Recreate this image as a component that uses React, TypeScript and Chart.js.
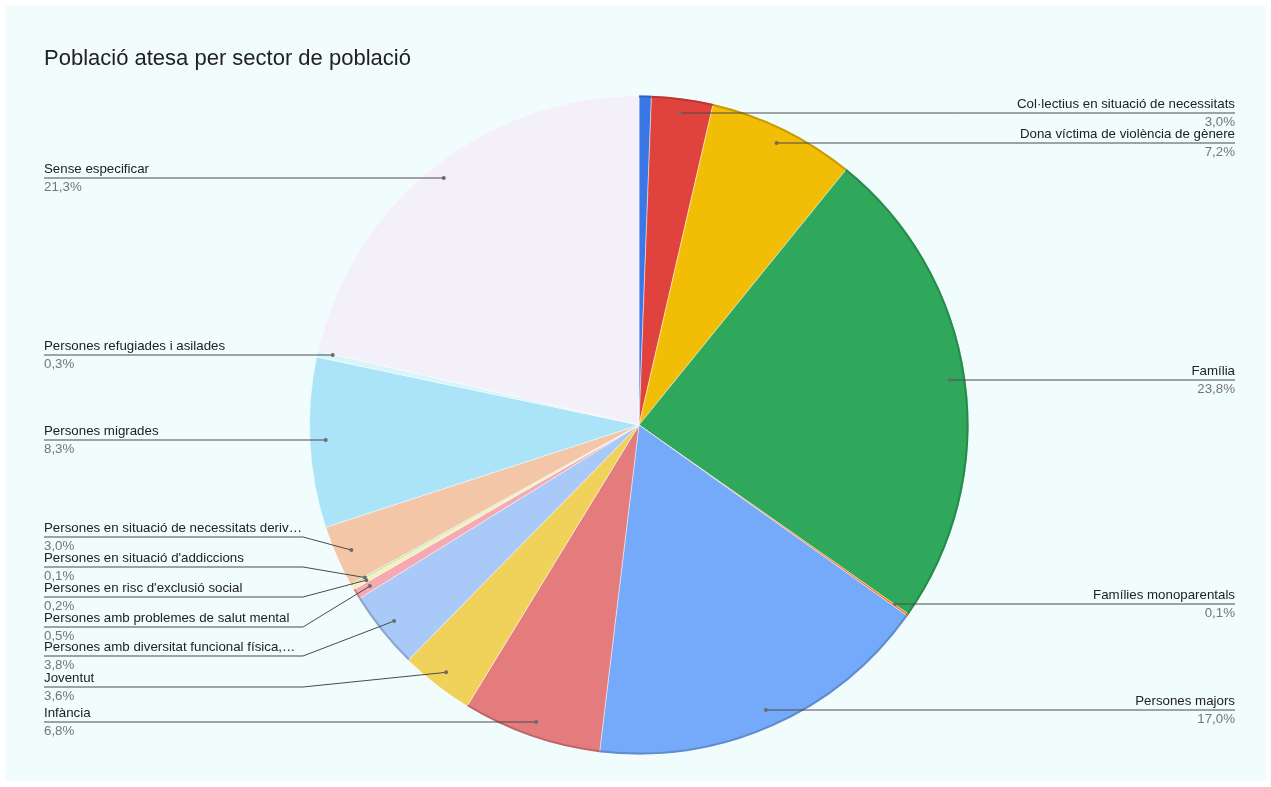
import React, { useEffect, useRef } from "react";
import { Chart, registerables } from "chart.js";

Chart.register(...registerables);

const TITLE = "Població atesa per sector de població";

const CATEGORIES = [
  "",
  "Col·lectius en situació de necessitats",
  "Dona víctima de violència de gènere",
  "Família",
  "Famílies monoparentals",
  "Persones majors",
  "Infància",
  "Joventut",
  "Persones amb diversitat funcional física,…",
  "Persones amb problemes de salut mental",
  "Persones en risc d'exclusió social",
  "Persones en situació d'addiccions",
  "Persones en situació de necessitats deriv…",
  "Persones migrades",
  "Persones refugiades i asilades",
  "Sense especificar",
];

const VALUES = [0.6, 3.0, 7.2, 23.8, 0.1, 17.0, 6.8, 3.6, 3.8, 0.5, 0.2, 0.1, 3.0, 8.3, 0.3, 21.3];

const COLORS = [
  "#3b78e7", "#e0433d", "#f2bd05", "#2fa85b", "#ff6d01", "#75a9fa", "#e47b7d", "#f0d25b",
  "#a9caf8", "#f4a9b3", "#f8f0b0", "#b9e2b4", "#f4c6a8", "#abe4f8", "#d9f5fa", "#f3f0fa",
];

// layout: y of each label's underline (text positions, not data)
const LABEL_LINE_Y = [null, 113, 143, 380, 604, 710, 722, 687, 656, 627, 597, 567, 537, 440, 355, 178];

const FONT = "'Liberation Sans', Arial, sans-serif";

function rgbOf(hex: string) {
  const n = parseInt(hex.slice(1), 16);
  return [(n >> 16) & 255, (n >> 8) & 255, n & 255];
}

function darken(hex: string, f: number) {
  const [r, g, b] = rgbOf(hex);
  return `rgb(${Math.round(r * f)},${Math.round(g * f)},${Math.round(b * f)})`;
}

function lightness(hex: string) {
  const [r, g, b] = rgbOf(hex);
  return (0.299 * r + 0.587 * g + 0.114 * b) / 255;
}

const fmtPct = (v: number) => v.toFixed(1).replace(".", ",") + "%";

const bgPlugin = {
  id: "bg",
  beforeDraw(chart: any) {
    const { ctx, width, height } = chart;
    ctx.save();
    ctx.fillStyle = "#ffffff";
    ctx.fillRect(0, 0, width, height);
    ctx.fillStyle = "#f1fcfd";
    ctx.fillRect(5, 6, width - 10, height - 12);
    ctx.fillStyle = "#222222";
    ctx.font = `22px ${FONT}`;
    ctx.textAlign = "left";
    ctx.textBaseline = "alphabetic";
    ctx.fillText(TITLE, 44, 65);
    ctx.restore();
  },
};

const labelPlugin = {
  id: "leaderLabels",
  afterDatasetsDraw(chart: any) {
    const { ctx } = chart;
    const meta = chart.getDatasetMeta(0);
    ctx.save();
    // rims
    meta.data.forEach((arc: any, i: number) => {
      if (lightness(COLORS[i]) > 0.8) return;
      const p = arc.getProps(["x", "y", "startAngle", "endAngle", "outerRadius"], true);
      ctx.beginPath();
      ctx.arc(p.x, p.y, p.outerRadius - 1, p.startAngle, p.endAngle);
      ctx.strokeStyle = darken(COLORS[i], 0.82);
      ctx.lineWidth = 2;
      ctx.stroke();
    });
    meta.data.forEach((arc: any, i: number) => {
      const name = CATEGORIES[i];
      const ly = LABEL_LINE_Y[i];
      if (!name || ly == null) return;
      const p = arc.getProps(["x", "y", "startAngle", "endAngle", "outerRadius"], true);
      const mid = (p.startAngle + p.endAngle) / 2;
      const rr = p.outerRadius * 0.952;
      const ax = p.x + Math.cos(mid) * rr;
      const ay = p.y + Math.sin(mid) * rr;
      const right = ax > p.x;
      const straight = Math.abs(ay - ly) < 4;
      ctx.strokeStyle = "#4a4a4a";
      ctx.lineWidth = 1;
      ctx.beginPath();
      ctx.font = `13.3px ${FONT}`;
      if (right) {
        const endX = 1235;
        if (straight) {
          ctx.moveTo(ax, ly);
          ctx.lineTo(endX, ly);
        } else {
          ctx.moveTo(ax, ay);
          ctx.lineTo(ax + 40, ly);
          ctx.lineTo(endX, ly);
        }
        ctx.stroke();
        ctx.fillStyle = "#222222";
        ctx.textAlign = "right";
        ctx.fillText(name, endX, ly - 5);
        ctx.fillStyle = "#757575";
        ctx.fillText(fmtPct(VALUES[i]), endX, ly + 13);
      } else {
        const startX = 44;
        if (straight) {
          ctx.moveTo(startX, ly);
          ctx.lineTo(ax, ly);
        } else {
          ctx.moveTo(startX, ly);
          ctx.lineTo(303, ly);
          ctx.lineTo(ax, ay);
        }
        ctx.stroke();
        ctx.fillStyle = "#222222";
        ctx.textAlign = "left";
        ctx.fillText(name, startX, ly - 5);
        ctx.fillStyle = "#757575";
        ctx.fillText(fmtPct(VALUES[i]), startX, ly + 13);
      }
      ctx.beginPath();
      ctx.arc(ax, straight ? ly : ay, 2, 0, Math.PI * 2);
      ctx.fillStyle = "#6b6b6b";
      ctx.fill();
    });
    ctx.restore();
  },
};

export default function App() {
  const ref = useRef<HTMLCanvasElement | null>(null);
  useEffect(() => {
    if (!ref.current) return;
    const chart = new Chart(ref.current, {
      type: "pie",
      data: {
        labels: CATEGORIES,
        datasets: [
          {
            data: VALUES,
            backgroundColor: COLORS,
            borderColor: "rgba(255,255,255,0.45)",
            borderWidth: 1,
          },
        ],
      },
      options: {
        responsive: false,
        animation: false,
        layout: { padding: { left: 309, right: 302, top: 95, bottom: 32 } },
        plugins: {
          legend: { display: false },
          tooltip: { enabled: false },
          title: { display: false },
        },
      },
      plugins: [bgPlugin, labelPlugin],
    });
    return () => chart.destroy();
  }, []);
  return (
    <canvas
      ref={ref}
      width={1271}
      height={787}
      style={{ position: "fixed", left: 0, top: 0, width: 1271, height: 787, display: "block" }}
    />
  );
}
